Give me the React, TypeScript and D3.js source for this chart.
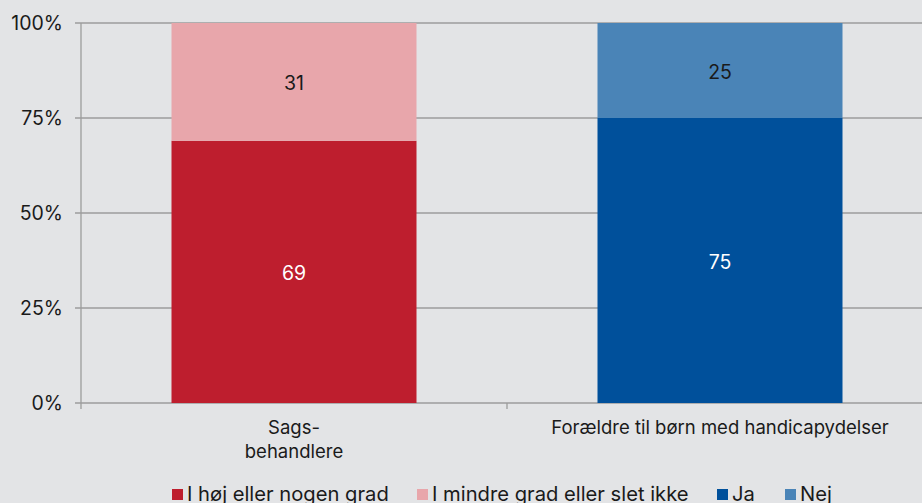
import React from "react";
import * as d3 from "d3";

const categories = ["Sags-\nbehandlere", "Forældre til børn med handicapydelser"];
const seriesNames = ["I høj eller nogen grad", "I mindre grad eller slet ikke", "Ja", "Nej"];
const seriesColors = ["#be1e2e", "#e8a6ab", "#00509b", "#4a84b7"];
const labelColors = ["#ffffff", "#1a1a1a", "#ffffff", "#1a1a1a"];
const bottomValues = [69, 75];
const topValues = [31, 25];
const bottomSeries = [0, 2];
const topSeries = [1, 3];
const yTicks = [0, 25, 50, 75, 100];

const W = 922;
const H = 503;
const left = 81;
const right = 933;
const top = 23;
const bottom = 403;
const font = "Inter, 'Noto Sans', sans-serif";

export default function App() {
  const x = d3.scaleBand<string>().domain(categories).range([left, right]).paddingInner(0).paddingOuter(0);
  const y = d3.scaleLinear().domain([0, 100]).range([bottom, top]);
  const barW = 245;
  const bars: any[] = [];
  categories.forEach((c, i) => {
    const cx = (x(c) as number) + x.bandwidth() / 2;
    const b = bottomValues[i];
    const t = topValues[i];
    bars.push({ key: c + "b", x: cx - barW / 2, y0: y(b), y1: y(0), s: bottomSeries[i], v: b, cx });
    bars.push({ key: c + "t", x: cx - barW / 2, y0: y(b + t), y1: y(b), s: topSeries[i], v: t, cx });
  });
  const legendX = [172, 417, 717, 785];
  return (
    <svg width={W} height={H} style={{ position: "absolute", left: 0, top: 0, background: "#e3e4e6" }}>
      <rect x={0} y={0} width={W} height={H} fill="#e3e4e6" />
      {yTicks.map((t) => (
        <g key={t}>
          <line x1={75} x2={W} y1={y(t)} y2={y(t)} stroke="#9c9c9c" strokeWidth={1.3} />
          <text x={63} y={y(t)} dy="0.35em" textAnchor="end" fontFamily={font} fontSize={19.5} fill="#1a1a1a">
            {t}%
          </text>
        </g>
      ))}
      <line x1={left} x2={left} y1={top} y2={409} stroke="#9c9c9c" strokeWidth={1.3} />
      <line x1={507} x2={507} y1={bottom} y2={409} stroke="#9c9c9c" strokeWidth={1.3} />
      {bars.map((b) => (
        <g key={b.key}>
          <rect x={b.x} y={b.y0} width={barW} height={b.y1 - b.y0} fill={seriesColors[b.s]} />
          <text x={b.cx} y={(b.y0 + b.y1) / 2 + 1.5} dy="0.35em" textAnchor="middle" fontFamily={font} fontSize={19.5} fill={labelColors[b.s]}>
            {b.v}
          </text>
        </g>
      ))}
      {categories.map((c) => {
        const cx = (x(c) as number) + x.bandwidth() / 2;
        const lines = c.split("\n");
        return (
          <text key={c} x={cx} y={428} textAnchor="middle" fontFamily={font} fontSize={18.5} fill="#1a1a1a">
            {lines.map((l, i) => (
              <tspan key={i} x={cx} dy={i === 0 ? "0.35em" : 24}>
                {l}
              </tspan>
            ))}
          </text>
        );
      })}
      {seriesNames.map((n, i) => (
        <g key={n}>
          <rect x={legendX[i]} y={489} width={11} height={11} fill={seriesColors[i]} />
          <text x={legendX[i] + 15} y={494} dy="0.35em" fontFamily={font} fontSize={20.2} fill="#1a1a1a">
            {n}
          </text>
        </g>
      ))}
    </svg>
  );
}
